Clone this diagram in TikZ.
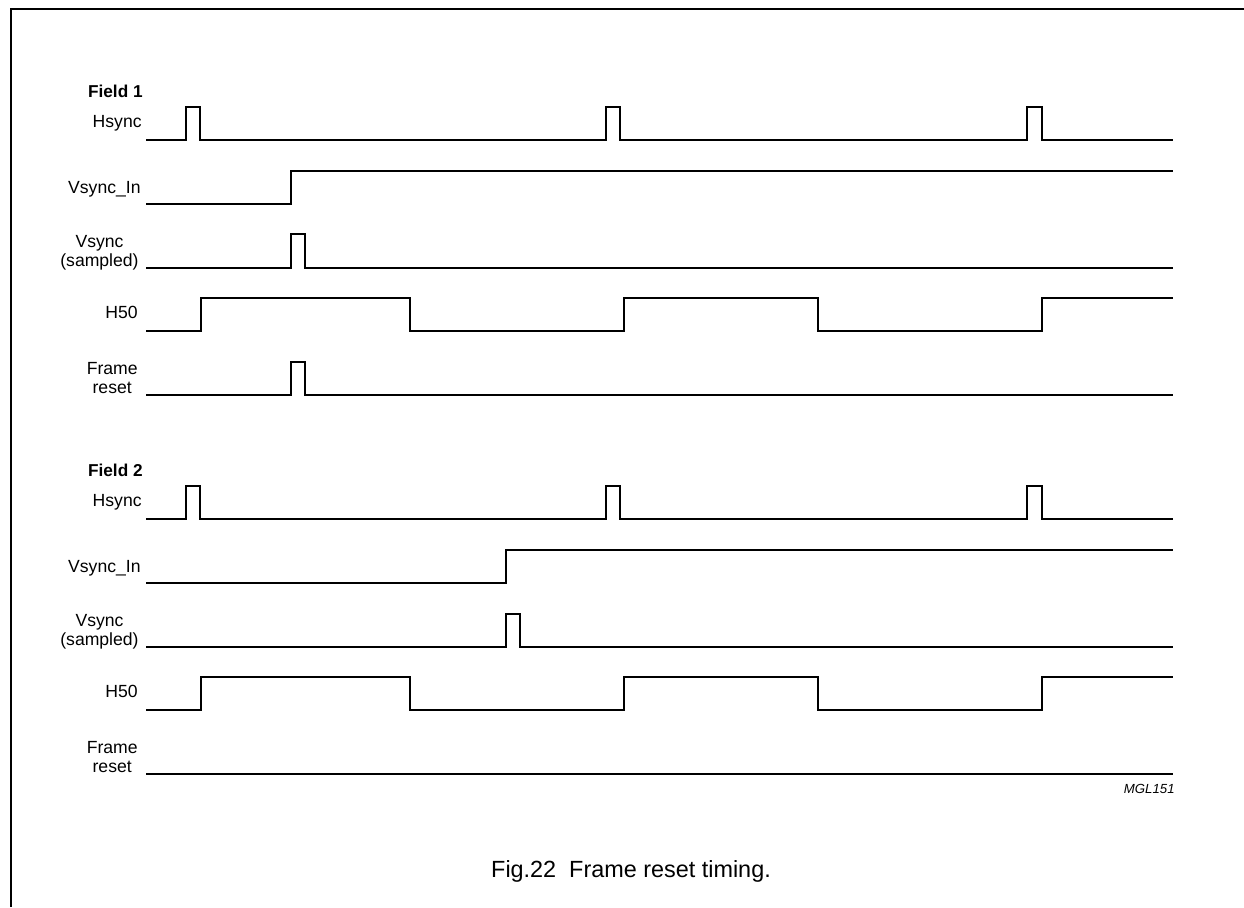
\documentclass[tikz,border=0pt]{standalone}
\usepackage{fontspec}
\setmainfont{Liberation Sans}
\usepackage{tikz}
\usetikzlibrary{positioning}

\begin{document}
\begin{tikzpicture}[x=0.5pt,y=-0.5pt]
\tikzstyle{mywave}=[line width=1pt,line join=miter];
\tikzstyle{mylabel}=[rectangle,inner sep=0pt,anchor=base east,align=center,font=\fontsize{8.8}{9.2}\selectfont];
\useasboundingbox (0,0) rectangle (1244,907);
\draw[line width=0.6pt] (11,907) -- (11,9) -- (1244,9);
% field 1
\node[mylabel,font=\fontsize{8.6}{9.2}\selectfont\bfseries](f1) at (143,97){Field 1};
\node[mylabel](f1hs) at (142,127){Hsync};
\node[mylabel](f1vi) at (141,193){Vsync\_In};
\node[mylabel](f1vs) at (139,266){Vsync\\(sampled)};
\node[mylabel](f1h5) at (138,318){H50};
\node[mylabel](f1fr) at (138,393){Frame\\reset};
\draw [mywave] (146,140) -- (186,140) -- (186,107) -- (200,107) -- (200,140) -- (606,140) -- (606,107) -- (620,107) -- (620,140) -- (1027,140) -- (1027,107) -- (1042,107) -- (1042,140) -- (1173,140);
\draw [mywave] (146,204) -- (291,204) -- (291,171) -- (1173,171);
\draw [mywave] (146,268) -- (291,268) -- (291,234) -- (305,234) -- (305,268) -- (1173,268);
\draw [mywave] (146,331) -- (201,331) -- (201,298) -- (410,298) -- (410,331) -- (624,331) -- (624,298) -- (818,298) -- (818,331) -- (1042,331) -- (1042,298) -- (1173,298);
\draw [mywave] (146,395) -- (291,395) -- (291,362) -- (305,362) -- (305,395) -- (1173,395);
% field 2
\node[mylabel,font=\fontsize{8.6}{9.2}\selectfont\bfseries](f2) at (143,476){Field 2};
\node[mylabel](f2hs) at (142,506){Hsync};
\node[mylabel](f2vi) at (141,572){Vsync\_In};
\node[mylabel](f2vs) at (139,645){Vsync\\(sampled)};
\node[mylabel](f2h5) at (138,697){H50};
\node[mylabel](f2fr) at (138,772){Frame\\reset};
\draw [mywave] (146,519) -- (186,519) -- (186,486) -- (200,486) -- (200,519) -- (606,519) -- (606,486) -- (620,486) -- (620,519) -- (1027,519) -- (1027,486) -- (1042,486) -- (1042,519) -- (1173,519);
\draw [mywave] (146,583) -- (506,583) -- (506,550) -- (1173,550);
\draw [mywave] (146,647) -- (506,647) -- (506,614) -- (520,614) -- (520,647) -- (1173,647);
\draw [mywave] (146,710) -- (201,710) -- (201,677) -- (410,677) -- (410,710) -- (624,710) -- (624,677) -- (818,677) -- (818,710) -- (1042,710) -- (1042,677) -- (1173,677);
\draw [mywave] (146,774) -- (1173,774);
\node[mylabel,font=\fontsize{6.6}{8}\selectfont\itshape](code) at (1175,793){MGL151};
\node[rectangle,inner sep=0pt,anchor=base,font=\fontsize{11.7}{14}\selectfont](cap) at (631,877){Fig.22\ \ Frame reset timing.};
\end{tikzpicture}
\end{document}
